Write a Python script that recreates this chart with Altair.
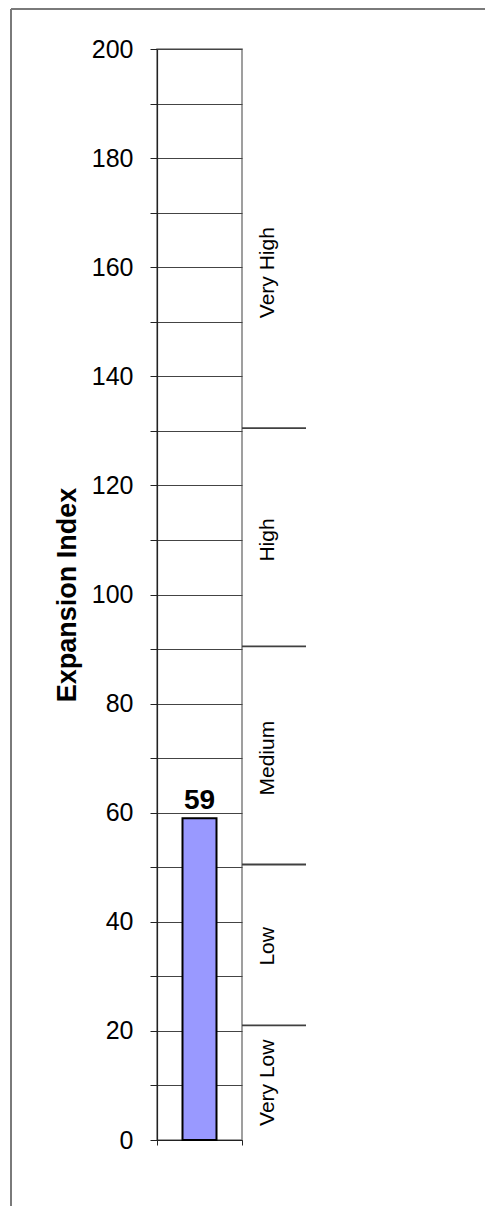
import altair as alt
import pandas as pd

# ---- data ----
categories = ["Very Low", "Low", "Medium", "High", "Very High"]
category_label_pos = [10.5, 35.5, 70, 110, 159]
thresholds = [21, 50.5, 90.5, 130.5]
index_value = [59]
y_ticks = list(range(0, 201, 10))

df_val = pd.DataFrame({"v": index_value})
df_thr = pd.DataFrame({"t": thresholds})
df_cat = pd.DataFrame({"cat": categories, "pos": category_label_pos})

FONT = "Liberation Sans"
W, H = 85, 1091
PAD = {"left": 149, "top": 41, "right": 243, "bottom": 66}

yscale = alt.Scale(domain=[0, 200], nice=False)
xscale = alt.Scale(domain=[0, 1], nice=False, padding=0)

yaxis = alt.Axis(
    values=y_ticks,
    labelExpr="datum.value % 20 == 0 ? datum.label : ''",
    tickSize=7, tickColor="#222", tickWidth=1,
    domainColor="#222", domainWidth=1.2,
    labelPadding=17, labelFontSize=25, labelColor="black", labelFont=FONT,
    grid=True, gridColor="#444", gridWidth=1,
    title="Expansion Index", titleFontSize=27, titleFontWeight="bold",
    titleFont=FONT, titleColor="black", titleAngle=270,
    titleBaseline="alphabetic", titleAlign="center",
    titleX=-82, titleY=H / 2,
)
xaxis = alt.Axis(values=[0, 1], labels=False, title=None, tickSize=5,
                 tickColor="#222", domainColor="#222", domainWidth=1.2, grid=False)

bar = alt.Chart(df_val).mark_bar(
    fill="#9999FF", stroke="black", strokeWidth=2, size=34, orient="vertical"
).encode(
    x=alt.X(datum=0.5, type="quantitative", scale=xscale, axis=xaxis),
    y=alt.Y("v:Q", scale=yscale, axis=yaxis),
    y2=alt.Y2(datum=0),
)

val_label = alt.Chart(df_val).mark_text(
    font=FONT, fontSize=28, fontWeight="bold", color="black",
    baseline="alphabetic", align="center", dy=-9,
).encode(
    x=alt.X(datum=0.5, type="quantitative", scale=xscale),
    y=alt.Y("v:Q", scale=yscale),
    text=alt.Text("v:Q"),
)

band_lines = alt.Chart(df_thr).mark_rule(color="#404040", strokeWidth=1.8).encode(
    y=alt.Y("t:Q", scale=yscale),
    x=alt.value(W),
    x2=alt.value(W + 64),
)

cat_labels = alt.Chart(df_cat).mark_text(
    font=FONT, fontSize=21, color="black", angle=270,
    align="center", baseline="middle",
).encode(
    y=alt.Y("pos:Q", scale=yscale),
    x=alt.value(111),
    text="cat:N",
)

border_top = alt.Chart(df_val).mark_rule(color="#7a7a7a", strokeWidth=2).encode(
    x=alt.value(-146), x2=alt.value(W + PAD["right"]), y=alt.value(-40)
)
border_left = alt.Chart(df_val).mark_rule(color="#7a7a7a", strokeWidth=2).encode(
    x=alt.value(-146), y=alt.value(-40), y2=alt.value(H + PAD["bottom"])
)

chart = alt.layer(
    border_top, border_left, bar, band_lines, cat_labels, val_label
).properties(
    width=W, height=H, padding=PAD,
    autosize=alt.AutoSizeParams(type="none"),
    background="white",
).configure_view(stroke="#808080", strokeWidth=1.5)

chart.save("out.html", embed_options={"renderer": "svg", "actions": False})
